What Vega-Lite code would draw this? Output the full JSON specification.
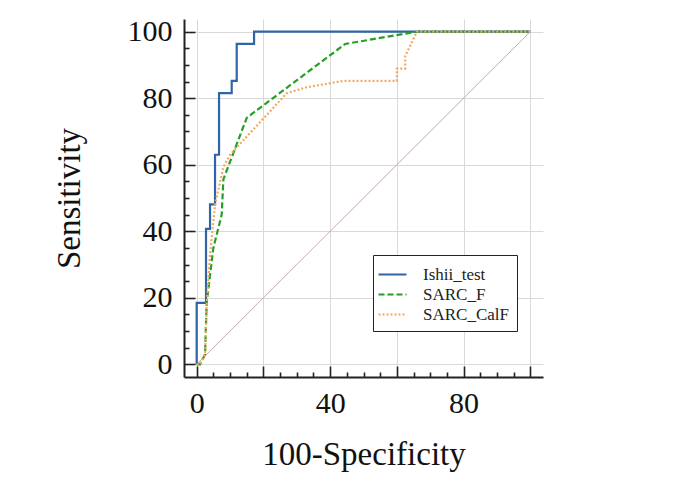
{
  "$schema": "https://vega.github.io/schema/vega-lite/v6.json",
  "width": 359,
  "height": 358,
  "autosize": "none",
  "padding": {"left": 184, "top": 19, "right": 139, "bottom": 101},
  "background": "white",
  "view": {"stroke": null},
  "config": {
    "font": "Liberation Serif",
    "axis": {
      "domainColor": "#222222",
      "domainWidth": 2,
      "tickColor": "#222222",
      "tickWidth": 1.6,
      "gridColor": "#d9d9d9",
      "gridWidth": 1,
      "labelFont": "Liberation Serif",
      "labelFontSize": 30,
      "labelColor": "#111111",
      "titleFont": "Liberation Serif",
      "titleFontSize": 33,
      "titleFontWeight": "normal",
      "titleColor": "#111111"
    },
    "legend": {
      "labelFont": "Liberation Serif",
      "labelFontSize": 17,
      "labelColor": "#222222"
    }
  },
  "data": {
    "values": [
      {"series": "Ishii_test", "i": 0, "fpr": 0, "tpr": 0},
      {"series": "Ishii_test", "i": 1, "fpr": 0, "tpr": 18.5},
      {"series": "Ishii_test", "i": 2, "fpr": 2.8, "tpr": 18.5},
      {"series": "Ishii_test", "i": 3, "fpr": 2.8, "tpr": 40.7},
      {"series": "Ishii_test", "i": 4, "fpr": 4.0, "tpr": 40.7},
      {"series": "Ishii_test", "i": 5, "fpr": 4.0, "tpr": 48.1},
      {"series": "Ishii_test", "i": 6, "fpr": 5.5, "tpr": 48.1},
      {"series": "Ishii_test", "i": 7, "fpr": 5.5, "tpr": 63.0},
      {"series": "Ishii_test", "i": 8, "fpr": 6.7, "tpr": 63.0},
      {"series": "Ishii_test", "i": 9, "fpr": 6.7, "tpr": 81.5},
      {"series": "Ishii_test", "i": 10, "fpr": 10.5, "tpr": 81.5},
      {"series": "Ishii_test", "i": 11, "fpr": 10.5, "tpr": 85.2},
      {"series": "Ishii_test", "i": 12, "fpr": 12.0, "tpr": 85.2},
      {"series": "Ishii_test", "i": 13, "fpr": 12.0, "tpr": 96.3},
      {"series": "Ishii_test", "i": 14, "fpr": 17.2, "tpr": 96.3},
      {"series": "Ishii_test", "i": 15, "fpr": 17.2, "tpr": 100},
      {"series": "Ishii_test", "i": 16, "fpr": 100, "tpr": 100},
      {"series": "SARC_F", "i": 0, "fpr": 0, "tpr": 0},
      {"series": "SARC_F", "i": 1, "fpr": 1.0, "tpr": 0},
      {"series": "SARC_F", "i": 2, "fpr": 2.5, "tpr": 3},
      {"series": "SARC_F", "i": 3, "fpr": 3.0, "tpr": 18.5},
      {"series": "SARC_F", "i": 4, "fpr": 5.0, "tpr": 35},
      {"series": "SARC_F", "i": 5, "fpr": 7.5, "tpr": 45},
      {"series": "SARC_F", "i": 6, "fpr": 8.0, "tpr": 55.6},
      {"series": "SARC_F", "i": 7, "fpr": 15.0, "tpr": 74.1},
      {"series": "SARC_F", "i": 8, "fpr": 44.5, "tpr": 96.3},
      {"series": "SARC_F", "i": 9, "fpr": 66.0, "tpr": 100},
      {"series": "SARC_F", "i": 10, "fpr": 100, "tpr": 100},
      {"series": "SARC_CalF", "i": 0, "fpr": 0, "tpr": 0},
      {"series": "SARC_CalF", "i": 1, "fpr": 1.0, "tpr": 0},
      {"series": "SARC_CalF", "i": 2, "fpr": 2.5, "tpr": 3},
      {"series": "SARC_CalF", "i": 3, "fpr": 3.0, "tpr": 18},
      {"series": "SARC_CalF", "i": 4, "fpr": 4.0, "tpr": 33},
      {"series": "SARC_CalF", "i": 5, "fpr": 5.5, "tpr": 48},
      {"series": "SARC_CalF", "i": 6, "fpr": 8.0, "tpr": 59.3},
      {"series": "SARC_CalF", "i": 7, "fpr": 10.0, "tpr": 63},
      {"series": "SARC_CalF", "i": 8, "fpr": 27.0, "tpr": 81.5},
      {"series": "SARC_CalF", "i": 9, "fpr": 33.0, "tpr": 83.3},
      {"series": "SARC_CalF", "i": 10, "fpr": 44.0, "tpr": 85.2},
      {"series": "SARC_CalF", "i": 11, "fpr": 60.0, "tpr": 85.2},
      {"series": "SARC_CalF", "i": 12, "fpr": 60.0, "tpr": 88.9},
      {"series": "SARC_CalF", "i": 13, "fpr": 62.5, "tpr": 88.9},
      {"series": "SARC_CalF", "i": 14, "fpr": 62.5, "tpr": 92.6},
      {"series": "SARC_CalF", "i": 15, "fpr": 66.0, "tpr": 100},
      {"series": "SARC_CalF", "i": 16, "fpr": 100, "tpr": 100},
      {"series": "ref", "i": 0, "fpr": 0, "tpr": 0},
      {"series": "ref", "i": 1, "fpr": 100, "tpr": 100}
    ]
  },
  "resolve": {"axis": {"x": "independent", "y": "independent"}},
  "layer": [
    {
      "transform": [{"filter": "datum.series === 'ref'"}],
      "mark": {"type": "line", "color": "#c9a9a9", "strokeWidth": 1},
      "encoding": {
        "x": {
          "field": "fpr", "type": "quantitative",
          "scale": {"domain": [-3.8, 103.8], "nice": false, "zero": false},
          "axis": {
            "orient": "bottom",
            "title": "100-Specificity",
            "values": [0, 20, 40, 60, 80, 100],
            "labelExpr": "datum.value % 40 === 0 ? datum.label : ''",
            "ticks": false,
            "labelPadding": 11,
            "titlePadding": 20,
            "labelFlush": false
          }
        },
        "y": {
          "field": "tpr", "type": "quantitative",
          "scale": {"domain": [-3.8, 103.8], "nice": false, "zero": false},
          "axis": {
            "orient": "left",
            "title": "Sensitivity",
            "values": [0, 20, 40, 60, 80, 100],
            "ticks": false,
            "labelPadding": 12,
            "titlePadding": 41,
            "labelFlush": false
          }
        },
        "order": {"field": "i"}
      }
    },
    {
      "transform": [{"filter": "datum.series === 'Ishii_test'"}],
      "mark": {"type": "line", "strokeWidth": 2.2},
      "encoding": {
        "x": {
          "field": "fpr", "type": "quantitative",
          "axis": {
            "orient": "bottom",
            "title": null,
            "values": [0, 20, 40, 60, 80, 100],
            "labels": false,
            "domain": false,
            "grid": false,
            "ticks": true,
            "offset": -11,
            "tickSize": 11
          }
        },
        "y": {
          "field": "tpr", "type": "quantitative",
          "axis": {
            "orient": "left",
            "title": null,
            "values": [0, 20, 40, 60, 80, 100],
            "labels": false,
            "domain": false,
            "grid": false,
            "ticks": true,
            "offset": -11,
            "tickSize": 11
          }
        },
        "order": {"field": "i"},
        "color": {
          "field": "series", "type": "nominal",
          "scale": {"domain": ["Ishii_test", "SARC_F", "SARC_CalF"], "range": ["#2f64a6", "#25a025", "#f2a862"]},
          "legend": {
            "title": null,
            "orient": "none",
            "legendX": 189,
            "legendY": 236,
            "fillColor": "white",
            "strokeColor": "#222222",
            "padding": 8,
            "symbolType": "M-1.4,0H1.4",
            "symbolSize": 400,
            "symbolStrokeWidth": 2.2,
            "labelFont": "Liberation Serif",
            "labelFontSize": 17,
            "labelColor": "#222222",
            "labelOffset": 19,
            "rowPadding": 0
          }
        },
        "strokeDash": {
          "field": "series", "type": "nominal",
          "scale": {"domain": ["Ishii_test", "SARC_F", "SARC_CalF"], "range": [[1, 0], [6, 3], [2, 2]]},
          "legend": {
            "title": null,
            "orient": "none",
            "legendX": 189,
            "legendY": 236,
            "fillColor": "white",
            "strokeColor": "#222222",
            "padding": 8,
            "symbolType": "M-1.4,0H1.4",
            "symbolSize": 400,
            "symbolStrokeWidth": 2.2,
            "labelFont": "Liberation Serif",
            "labelFontSize": 17,
            "labelColor": "#222222",
            "labelOffset": 19,
            "rowPadding": 0
          }
        }
      }
    },
    {
      "transform": [{"filter": "datum.series === 'SARC_F' || datum.series === 'SARC_CalF'"}],
      "mark": {"type": "line", "strokeWidth": 2.2},
      "encoding": {
        "x": {
          "field": "fpr", "type": "quantitative",
          "axis": {
            "orient": "bottom",
            "title": null,
            "values": [5,10,15,25,30,35,45,50,55,65,70,75,85,90,95],
            "labels": false,
            "domain": false,
            "grid": false,
            "ticks": true,
            "offset": -5,
            "tickSize": 5
          }
        },
        "y": {
          "field": "tpr", "type": "quantitative",
          "axis": {
            "orient": "left",
            "title": null,
            "values": [5,10,15,25,30,35,45,50,55,65,70,75,85,90,95],
            "labels": false,
            "domain": false,
            "grid": false,
            "ticks": true,
            "offset": -5,
            "tickSize": 5
          }
        },
        "order": {"field": "i"},
        "color": {"field": "series", "type": "nominal"},
        "strokeDash": {"field": "series", "type": "nominal"}
      }
    }
  ]
}
